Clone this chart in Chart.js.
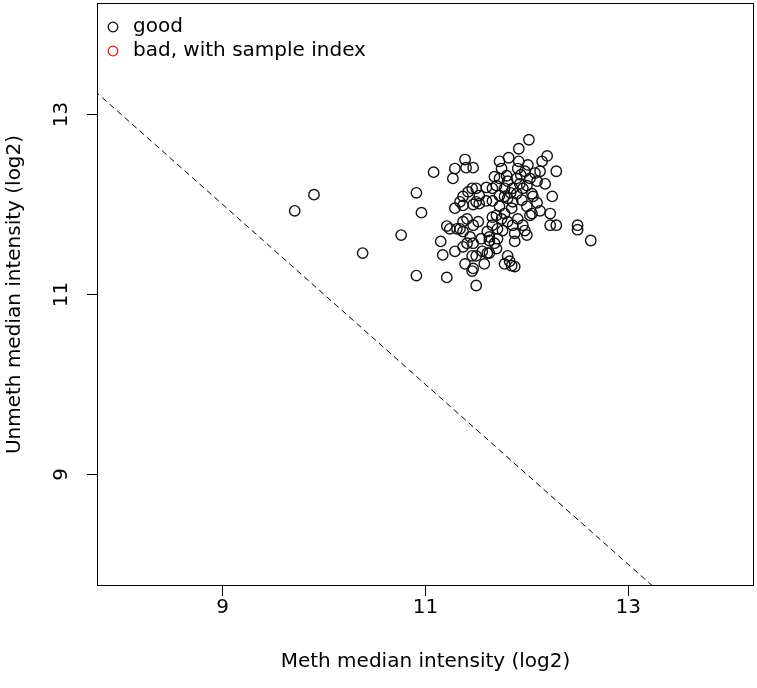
<!DOCTYPE html>
<html>
<head>
<meta charset="utf-8">
<script src="https://cdn.jsdelivr.net/npm/chart.js@4"></script>
<style>
  html, body { margin: 0; padding: 0; background: #fff; }
</style>
</head>
<body>
<canvas id="qc" width="757" height="688"></canvas>
<script>
// median intensities (log2)
const methMedian = [
  9.71, 9.90, 10.38, 10.76, 10.91, 10.96, 10.91, 11.08, 11.15, 11.17,
  11.21, 11.50, 12.63, 12.23, 12.29, 12.50, 12.50, 12.02, 12.20, 12.29,
  11.92, 11.82, 11.73, 11.39, 11.47, 11.29, 11.27, 11.40, 12.15, 12.01,
  12.13, 11.92, 11.91, 11.68, 11.70, 11.66, 11.80, 11.81, 11.90, 11.98,
  12.03, 12.10, 12.00, 12.18, 11.46, 11.50, 11.42, 11.37, 11.34, 11.29,
  11.50, 11.53, 11.60, 11.66, 11.73, 11.78, 11.81, 11.86, 11.90, 11.96,
  12.05, 12.06, 12.25, 11.73, 11.85, 11.86, 12.00, 12.05, 12.13, 12.23,
  11.70, 11.75, 11.78, 11.81, 11.86, 11.91, 11.96, 11.98, 12.00, 11.66,
  11.71, 11.76, 11.61, 11.63, 11.71, 11.68, 11.88, 11.41, 11.37, 11.47,
  11.34, 11.37, 11.21, 11.24, 11.31, 11.29, 11.37, 11.41, 11.47, 11.46,
  11.50, 11.39, 11.46, 11.47, 11.56, 11.61, 11.58, 11.63, 11.70, 11.78,
  11.83, 11.81, 11.88, 11.85, 11.53, 11.37, 11.73, 11.78, 11.63, 11.47,
  12.03, 11.60, 11.93, 12.08, 11.84, 11.95, 11.44, 11.55, 11.66, 11.88,
  12.10, 11.75, 11.52, 11.94
];
const unmethMedian = [
  11.93, 12.11, 11.46, 11.66, 12.13, 11.91, 11.21, 12.36, 11.59, 11.44,
  11.19, 11.10, 11.60, 11.77, 11.77, 11.77, 11.72, 12.72, 12.54, 12.37,
  12.62, 12.52, 12.48, 12.50, 12.41, 12.40, 12.29, 12.41, 12.48, 12.44,
  12.37, 12.48, 12.40, 12.31, 12.21, 12.18, 12.32, 12.26, 12.29, 12.37,
  12.29, 12.26, 12.21, 12.23, 12.18, 12.18, 12.14, 12.09, 12.03, 11.96,
  12.03, 12.10, 12.04, 12.04, 12.10, 12.09, 12.07, 12.18, 12.12, 12.18,
  12.12, 12.09, 12.09, 11.98, 11.96, 12.03, 11.98, 11.90, 11.93, 11.90,
  11.88, 11.84, 11.90, 11.81, 11.77, 11.84, 11.77, 11.71, 11.66, 11.77,
  11.73, 11.71, 11.70, 11.64, 11.62, 11.57, 11.59, 11.84, 11.81, 11.77,
  11.73, 11.70, 11.76, 11.73, 11.73, 11.48, 11.53, 11.57, 11.57, 11.43,
  11.43, 11.34, 11.26, 11.29, 11.48, 11.46, 11.34, 11.46, 11.51, 11.34,
  11.37, 11.43, 11.31, 11.32, 12.01, 11.99, 12.29, 12.18, 11.60, 12.00,
  11.88, 12.19, 12.23, 12.35, 12.13, 12.05, 11.64, 11.62, 11.86, 11.68,
  12.02, 12.40, 11.81, 12.33
];

// dashed cut-off line x + y = 21
const cutoffX = [7, 14];
const cutoffY = [14, 7];

const tickValues = [9, 11, 13];
const axisRange = [7.76, 14.24];

const legendItems = ['good', 'bad, with sample index'];
const legendColors = ['#000000', '#e41a1c'];

const FONT = 'DejaVu Sans';

const goodPoints = methMedian.map((x, i) => ({ x: x, y: unmethMedian[i] }));
const cutoffPoints = cutoffX.map((x, i) => ({ x: x, y: cutoffY[i] }));

const framePlugin = {
  id: 'frame',
  afterDraw(chart) {
    const c = chart.ctx;
    const a = chart.chartArea;
    const yScale = chart.scales.y;
    c.save();
    // box round the plot
    c.strokeStyle = '#000';
    c.lineWidth = 1;
    c.strokeRect(a.left + 0.5, a.top + 0.5, a.right - a.left - 1, a.bottom - a.top - 1);

    // y tick labels, rotated like R does
    c.fillStyle = '#000';
    c.font = '20px "' + FONT + '"';
    c.textAlign = 'center';
    c.textBaseline = 'middle';
    tickValues.forEach(v => {
      const py = yScale.getPixelForValue(v);
      c.save();
      c.translate(62, py);
      c.rotate(-Math.PI / 2);
      c.fillText(String(v), 0, 0);
      c.restore();
    });

    // legend
    c.textAlign = 'left';
    legendItems.forEach((label, i) => {
      const ly = a.top + 24 + i * 24;
      c.beginPath();
      c.arc(a.left + 16, ly, 4.8, 0, Math.PI * 2);
      c.strokeStyle = legendColors[i];
      c.lineWidth = 1.3;
      c.stroke();
      c.fillStyle = '#000';
      c.fillText(label, a.left + 36, ly);
    });
    c.restore();
  }
};

new Chart(document.getElementById('qc'), {
  type: 'scatter',
  data: {
    datasets: [
      {
        label: 'good',
        data: goodPoints,
        pointStyle: 'circle',
        pointRadius: 5.2,
        pointBorderWidth: 1.4,
        pointBorderColor: '#111',
        pointBackgroundColor: 'rgba(0,0,0,0)'
      },
      {
        label: 'cutoff',
        type: 'line',
        data: cutoffPoints,
        borderColor: '#000',
        borderWidth: 1,
        borderDash: [6, 4],
        pointRadius: 0,
        fill: false
      }
    ]
  },
  options: {
    responsive: false,
    animation: false,
    layout: { autoPadding: false, padding: { top: 3, right: 3, left: 0, bottom: 0 } },
    plugins: {
      legend: { display: false },
      tooltip: { enabled: false }
    },
    scales: {
      x: {
        type: 'linear',
        min: axisRange[0],
        max: axisRange[1],
        afterBuildTicks: s => { s.ticks = tickValues.map(v => ({ value: v })); },
        afterFit: s => { s.height = 102; },
        grid: { drawOnChartArea: false, drawTicks: true, tickLength: 10, color: '#000' },
        border: { display: false },
        ticks: {
          color: '#000',
          font: { family: FONT, size: 20 },
          padding: 0,
          maxRotation: 0
        },
        title: {
          display: true,
          text: 'Meth median intensity (log2)',
          color: '#000',
          font: { family: FONT, size: 20 },
          padding: { top: 0, bottom: 14 }
        }
      },
      y: {
        type: 'linear',
        min: axisRange[0],
        max: axisRange[1],
        afterBuildTicks: s => { s.ticks = tickValues.map(v => ({ value: v })); },
        afterFit: s => { s.width = 97; },
        grid: { drawOnChartArea: false, drawTicks: true, tickLength: 10, color: '#000' },
        border: { display: false },
        ticks: { display: false },
        title: {
          display: true,
          text: 'Unmeth median intensity (log2)',
          color: '#000',
          font: { family: FONT, size: 20 },
          padding: { top: 3, bottom: 0 }
        }
      }
    }
  },
  plugins: [framePlugin]
});
</script>
</body>
</html>
